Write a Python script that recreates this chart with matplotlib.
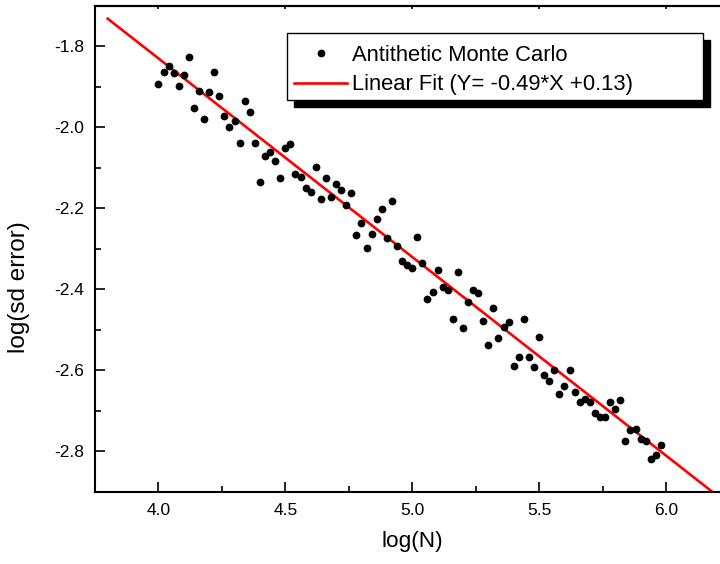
import matplotlib

matplotlib.use("Agg")
import matplotlib.pyplot as plt
from matplotlib.patches import Rectangle
from matplotlib.ticker import MultipleLocator

# log(N) grid
log_n = [
    4.00, 4.02, 4.04, 4.06, 4.08, 4.10, 4.12, 4.14, 4.16, 4.18,
    4.20, 4.22, 4.24, 4.26, 4.28, 4.30, 4.32, 4.34, 4.36, 4.38,
    4.40, 4.42, 4.44, 4.46, 4.48, 4.50, 4.52, 4.54, 4.56, 4.58,
    4.60, 4.62, 4.64, 4.66, 4.68, 4.70, 4.72, 4.74, 4.76, 4.78,
    4.80, 4.82, 4.84, 4.86, 4.88, 4.90, 4.92, 4.94, 4.96, 4.98,
    5.00, 5.02, 5.04, 5.06, 5.08, 5.10, 5.12, 5.14, 5.16, 5.18,
    5.20, 5.22, 5.24, 5.26, 5.28, 5.30, 5.32, 5.34, 5.36, 5.38,
    5.40, 5.42, 5.44, 5.46, 5.48, 5.50, 5.52, 5.54, 5.56, 5.58,
    5.60, 5.62, 5.64, 5.66, 5.68, 5.70, 5.72, 5.74, 5.76, 5.78,
    5.80, 5.82, 5.84, 5.86, 5.88, 5.90, 5.92, 5.94, 5.96, 5.98,
]
log_sd_error = [
    -1.894, -1.863, -1.848, -1.866, -1.899, -1.870, -1.827, -1.953, -1.910, -1.980,
    -1.913, -1.863, -1.924, -1.971, -1.999, -1.984, -2.038, -1.935, -1.962, -2.039,
    -2.134, -2.071, -2.061, -2.082, -2.125, -2.052, -2.042, -2.115, -2.123, -2.150,
    -2.160, -2.098, -2.178, -2.124, -2.172, -2.139, -2.154, -2.193, -2.162, -2.267,
    -2.236, -2.299, -2.264, -2.227, -2.202, -2.273, -2.181, -2.292, -2.331, -2.339,
    -2.347, -2.270, -2.336, -2.423, -2.407, -2.351, -2.393, -2.402, -2.472, -2.357,
    -2.495, -2.430, -2.402, -2.408, -2.479, -2.537, -2.446, -2.521, -2.494, -2.481,
    -2.590, -2.567, -2.473, -2.567, -2.591, -2.518, -2.612, -2.626, -2.598, -2.658,
    -2.638, -2.598, -2.654, -2.678, -2.671, -2.679, -2.705, -2.714, -2.715, -2.678,
    -2.695, -2.674, -2.775, -2.748, -2.744, -2.770, -2.773, -2.819, -2.809, -2.783,
]

fit_slope = -0.49
fit_intercept = 0.13
fit_x = [3.80, 6.20]
fit_y = [fit_slope * x + fit_intercept for x in fit_x]

plt.rcParams["font.family"] = ["Liberation Sans", "DejaVu Sans"]

W, H = 720, 564
fig = plt.figure(figsize=(W / 100, H / 100), dpi=100)
# axes runs past the right edge, like the cropped original
ax = fig.add_axes([95 / W, 72 / H, 634.4 / W, 486.3 / H])

ax.plot(fit_x, fit_y, color="#ff0000", lw=1.9, zorder=2,
        label="Linear Fit (Y= -0.49*X +0.13)")
ax.plot(log_n, log_sd_error, "o", color="black", ms=5.6, mew=0, zorder=3,
        label="Antithetic Monte Carlo")

ax.set_xlim(3.75, 6.25)
ax.set_ylim(-2.9, -1.7)
ax.xaxis.set_major_locator(MultipleLocator(0.5))
ax.xaxis.set_minor_locator(MultipleLocator(0.25))
ax.yaxis.set_major_locator(MultipleLocator(0.2))
ax.yaxis.set_minor_locator(MultipleLocator(0.1))
ax.xaxis.set_major_formatter(lambda v, p: f"{v:.1f}")
ax.yaxis.set_major_formatter(lambda v, p: f"{v:.1f}")

for side in ax.spines.values():
    side.set_linewidth(1.5)
ax.tick_params(which="both", direction="in", width=1.2, labelsize=12.5,
               top=False, right=False)
ax.tick_params(which="major", length=7.2, pad=8)
ax.tick_params(which="minor", length=4.3)

# tiny marks on the top edge
top = ax.secondary_xaxis("top")
top.xaxis.set_major_locator(MultipleLocator(0.5))
top.tick_params(direction="in", length=2, width=1.2, labeltop=False)
top.spines["top"].set_linewidth(1.5)

ax.set_xlabel("log(N)", fontsize=16.2, va="center")
ax.set_ylabel("log(sd error)", fontsize=17.5, va="center")
ax.xaxis.set_label_coords(0.5, (492 - 541) / 486.3)
ax.yaxis.set_label_coords((19 - 95) / 634.4, (492 - 287) / 486.3)

# legend box with a solid drop shadow
bx0, by0, bw, bh = 286.7, 564 - 100, 416, 66.7
fig.patches.append(Rectangle(((bx0 + 7) / W, (by0 - 7) / H), bw / W, bh / H,
                             transform=fig.transFigure, facecolor="black",
                             edgecolor="black", zorder=4))
fig.patches.append(Rectangle((bx0 / W, by0 / H), bw / W, bh / H,
                             transform=fig.transFigure, facecolor="white",
                             edgecolor="black", lw=1.0, zorder=5))
handles, labels = ax.get_legend_handles_labels()
leg = fig.legend(handles[::-1], labels[::-1], loc="upper left",
                 bbox_to_anchor=((bx0 - 4) / W, (by0 + bh) / H),
                 frameon=False, fontsize=15.8, handlelength=2.4,
                 handletextpad=0.21, labelspacing=0.38, borderpad=0.53,
                 borderaxespad=0)
leg.set_zorder(6)

fig.savefig("out.png", dpi=100)
